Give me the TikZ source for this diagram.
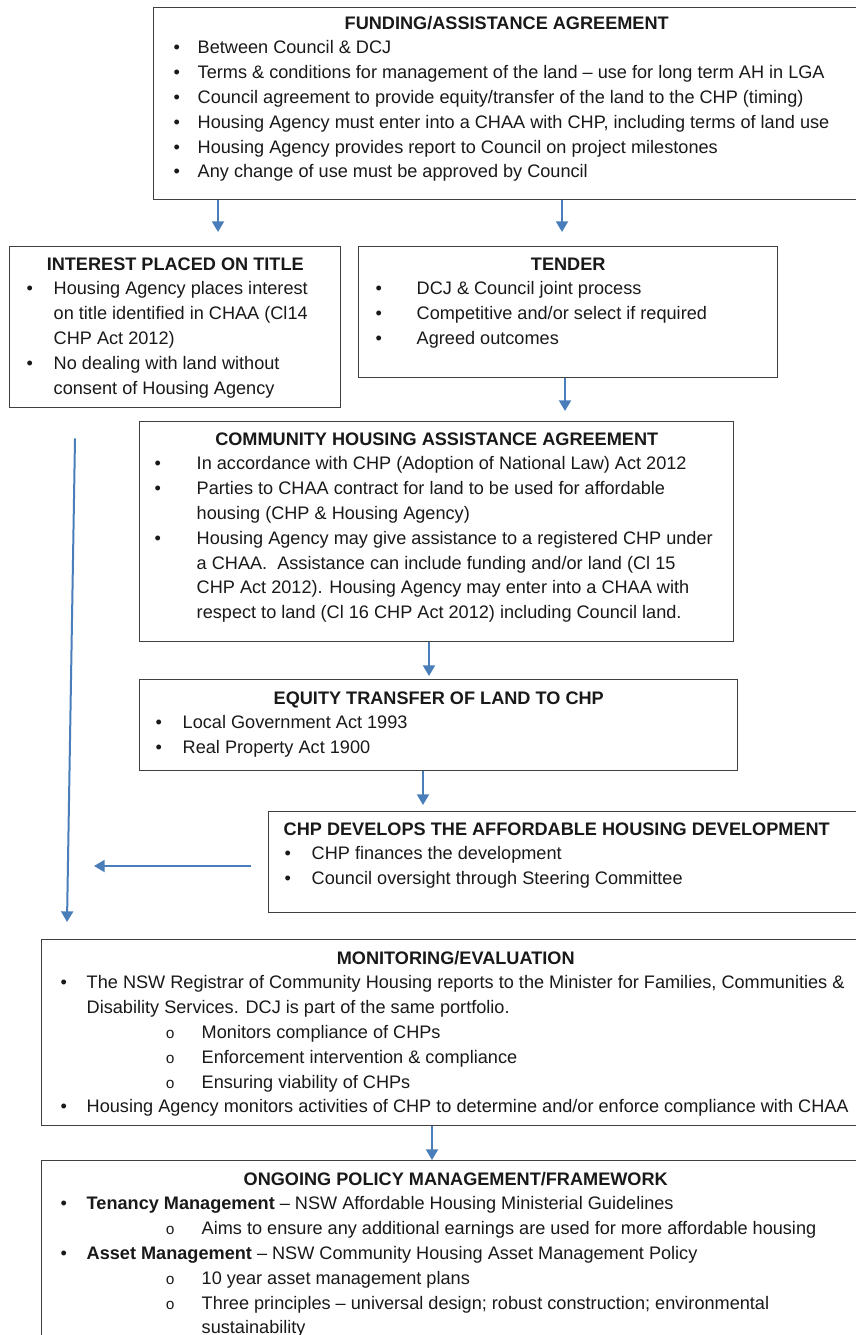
\documentclass[tikz,border=0pt]{standalone}
\usepackage{fontspec}
\setmainfont{Liberation Sans}
\newfontfamily\monofont{Liberation Mono}
\usetikzlibrary{arrows.meta,calc}

\newlength{\px}\setlength{\px}{0.75pt}
\setlength{\parskip}{0pt}
\definecolor{arrowblue}{RGB}{74,126,187}
\definecolor{boxgray}{RGB}{64,64,64}

% text inside the boxes
\newcommand{\subbul}{{\monofont\fontsize{11.5pt}{11.5pt}\selectfont o}}
\newcommand{\hd}[2][6]{\vspace*{#1\px}{\centering\bfseries\strut#2\par}}
\newcommand{\itm}[3]{\par\hangindent=#2\px\hangafter=1\noindent\hbox to #2\px{\hskip#1\px\textbullet\hfil}\strut#3\par}
\newcommand{\subitm}[3]{\par\hangindent=#2\px\hangafter=1\noindent\hbox to #2\px{\hskip#1\px\subbul\hfil}\strut#3\par}
\newcommand{\boxbody}[3]{\parbox[t][#2\px][t]{#1\px}{#3}}

\begin{document}
\begin{tikzpicture}[
  x=0.75pt,y=-0.75pt,
  panel/.style={draw=boxgray,line width=1.1pt,inner sep=0pt,anchor=north west,
    fill=white,text=black!90,font={\fontsize{13.6pt}{18.6pt}\selectfont}},
  arr/.style={-{Triangle[length=8pt,width=9pt]},line width=1.5pt,draw=arrowblue}
]
  \useasboundingbox (0,0) rectangle (856,1335);
  \fill[white] (0,0) rectangle (856,1335);
  \clip (0,0) rectangle (856,1335);

  \node[panel] (fund) at (153,7) {\boxbody{706}{192}{%
    \hd[4]{FUNDING/ASSISTANCE AGREEMENT}
    \itm{20}{44}{Between Council \& DCJ}
    \itm{20}{44}{Terms \& conditions for management of the land – use for long term AH in LGA}
    \itm{20}{44}{Council agreement to provide equity/transfer of the land to the CHP (timing)}
    \itm{20}{44}{Housing Agency must enter into a CHAA with CHP, including terms of land use}
    \itm{20}{44}{Housing Agency provides report to Council on project milestones}
    \itm{20}{44}{Any change of use must be approved by Council}}};

  \node[panel] (intr) at (9,246) {\boxbody{331}{161}{%
    \hd{INTEREST PLACED ON TITLE}
    \itm{17}{44}{Housing Agency places interest\\ on title identified in CHAA (Cl14\\ CHP Act 2012)}
    \itm{17}{44}{No dealing with land without\\ consent of Housing Agency}}};

  \node[panel] (tend) at (358,246) {\boxbody{419}{131}{%
    \hd{TENDER}
    \itm{17}{58}{DCJ \& Council joint process}
    \itm{17}{58}{Competitive and/or select if required}
    \itm{17}{58}{Agreed outcomes}}};

  \node[panel] (chaa) at (139,421) {\boxbody{594}{220}{%
    \hd{COMMUNITY HOUSING ASSISTANCE AGREEMENT}
    \itm{15}{57}{In accordance with CHP (Adoption of National Law) Act 2012}
    \itm{15}{57}{Parties to CHAA contract for land to be used for affordable\\ housing (CHP \& Housing Agency)}
    \itm{15}{57}{Housing Agency may give assistance to a registered CHP under\\ a CHAA.\ \ Assistance can include funding and/or land (Cl 15\\ CHP Act 2012). Housing Agency may enter into a CHAA with\\ respect to land (Cl 16 CHP Act 2012) including Council land.}}};

  \node[panel] (eqty) at (139,679) {\boxbody{598}{91}{%
    \hd[7]{EQUITY TRANSFER OF LAND TO CHP}
    \itm{16}{43}{Local Government Act 1993}
    \itm{16}{43}{Real Property Act 1900}}};

  \node[panel] (dev) at (268,811) {\boxbody{600}{101}{%
    \vspace*{6\px}\noindent\hspace*{15\px}{\bfseries\strut CHP DEVELOPS THE AFFORDABLE HOUSING DEVELOPMENT}\par
    \itm{16}{43}{CHP finances the development}
    \itm{16}{43}{Council oversight through Steering Committee}}};

  \node[panel] (mon) at (41,939) {\boxbody{828}{186}{%
    \hd[7]{MONITORING/EVALUATION}
    \itm{19}{45}{The NSW Registrar of Community Housing reports to the Minister for Families, Communities \&\\ Disability Services. DCJ is part of the same portfolio.}
    \subitm{124}{160}{Monitors compliance of CHPs}
    \subitm{124}{160}{Enforcement intervention \& compliance}
    \subitm{124}{160}{Ensuring viability of CHPs}
    \itm{19}{45}{Housing Agency monitors activities of CHP to determine and/or enforce compliance with CHAA}}};

  \node[panel] (ong) at (41,1160) {\boxbody{828}{200}{%
    \hd[7]{ONGOING POLICY MANAGEMENT/FRAMEWORK}
    \itm{19}{45}{\textbf{Tenancy Management} – NSW Affordable Housing Ministerial Guidelines}
    \subitm{124}{160}{Aims to ensure any additional earnings are used for more affordable housing}
    \itm{19}{45}{\textbf{Asset Management} – NSW Community Housing Asset Management Policy}
    \subitm{124}{160}{10 year asset management plans}
    \subitm{124}{160}{Three principles – universal design; robust construction; environmental\\ sustainability}}};

  % flow between the boxes
  \draw[arr] (fund.south -| 218,0) -- ($(intr.north -| 218,0)+(0,-14)$);
  \draw[arr] (fund.south -| 562,0) -- ($(tend.north -| 562,0)+(0,-14)$);
  \draw[arr] (tend.south -| 565,0) -- ($(chaa.north -| 565,0)+(0,-10)$);
  \draw[arr] (chaa.south -| 429,0) -- ($(eqty.north -| 429,0)+(0,-3)$);
  \draw[arr] (eqty.south -| 423,0) -- ($(dev.north -| 423,0)+(0,-6)$);
  \draw[arr] (mon.south -| 432,0) -- (ong.north -| 432,0);

  \coordinate (devout) at ($(dev.west |- 0,866)+(-17,0)$);
  \coordinate (devend) at (94,866);
  \draw[arr] (devout) -- (devend);

  \coordinate (ltop) at ($(intr.south west)+(66,30)$);
  \coordinate (lbot) at ($(mon.north west)+(26,-17)$);
  \draw[arr] (ltop) -- (lbot);
\end{tikzpicture}
\end{document}
